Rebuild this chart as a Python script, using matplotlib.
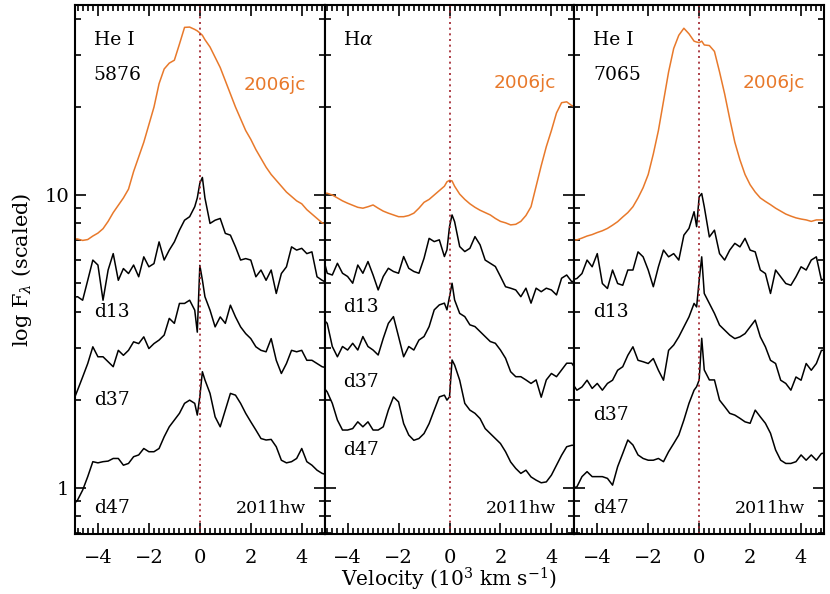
import numpy as np
import matplotlib
matplotlib.use("Agg")
import matplotlib.pyplot as plt
from matplotlib.ticker import MultipleLocator, LogLocator, NullFormatter, FixedLocator, FixedFormatter

# luoi van toc (10^3 km/s), day hon quanh 0
VEL = np.array([-5.0, -4.8, -4.6, -4.4, -4.2, -4.0, -3.8, -3.6, -3.4, -3.2,
                -3.0, -2.8, -2.6, -2.4, -2.2, -2.0, -1.8, -1.6, -1.4, -1.2,
                -1.0, -0.8, -0.6, -0.4, -0.2, -0.1, 0.0, 0.1,
                0.2, 0.4, 0.6, 0.8, 1.0, 1.2, 1.4, 1.6, 1.8, 2.0,
                2.2, 2.4, 2.6, 2.8, 3.0, 3.2, 3.4, 3.6, 3.8, 4.0,
                4.2, 4.4, 4.6, 4.8, 5.0])

# log10 F (scaled) doc tu hinh
hei5876_jc = [0.85, 0.85, 0.845, 0.848, 0.86, 0.87, 0.885, 0.91, 0.94, 0.965,
              0.99, 1.02, 1.08, 1.13, 1.18, 1.24, 1.30, 1.38, 1.43, 1.45,
              1.46, 1.515, 1.572, 1.573, 1.565, 1.56, 1.553, 1.545,
              1.53, 1.505, 1.47, 1.435, 1.39, 1.345, 1.30, 1.26, 1.22, 1.19,
              1.155, 1.125, 1.095, 1.07, 1.05, 1.03, 1.01, 0.995, 0.98, 0.97,
              0.95, 0.935, 0.92, 0.905, 0.90]
hei5876_d13 = [0.65, 0.653, 0.641, 0.709, 0.778, 0.761, 0.641, 0.744, 0.800, 0.709,
               0.749, 0.732, 0.761, 0.721, 0.789, 0.755, 0.766, 0.840, 0.778, 0.812,
               0.840, 0.880, 0.914, 0.926, 0.960, 0.99, 1.04, 1.06,
               0.99, 0.903, 0.914, 0.920, 0.869, 0.863, 0.823, 0.778, 0.783, 0.778,
               0.721, 0.744, 0.709, 0.744, 0.664, 0.732, 0.755, 0.823, 0.812, 0.818,
               0.800, 0.806, 0.721, 0.709, 0.70]
hei5876_d37 = [0.29, 0.334, 0.379, 0.425, 0.482, 0.448, 0.448, 0.431, 0.414, 0.470,
               0.453, 0.470, 0.499, 0.493, 0.516, 0.476, 0.493, 0.505, 0.522, 0.579,
               0.562, 0.630, 0.630, 0.641, 0.607, 0.532, 0.76, 0.71,
               0.653, 0.607, 0.550, 0.584, 0.562, 0.624, 0.584, 0.550, 0.527, 0.510,
               0.482, 0.470, 0.465, 0.510, 0.436, 0.391, 0.425, 0.470, 0.465, 0.470,
               0.436, 0.436, 0.425, 0.414, 0.41]
hei5876_d47 = [-0.06, -0.041, -0.007, 0.039, 0.090, 0.086, 0.090, 0.092, 0.101, 0.101,
               0.078, 0.084, 0.107, 0.113, 0.135, 0.124, 0.124, 0.135, 0.175, 0.209,
               0.232, 0.255, 0.289, 0.300, 0.289, 0.249, 0.312, 0.397,
               0.369, 0.323, 0.243, 0.209, 0.266, 0.323, 0.317, 0.289, 0.255, 0.226,
               0.198, 0.169, 0.164, 0.166, 0.141, 0.095, 0.086, 0.090, 0.101, 0.135,
               0.090, 0.078, 0.061, 0.050, 0.045]

halpha_jc = [1.005, 1.006, 1.0, 0.99, 0.98, 0.972, 0.965, 0.958, 0.955, 0.96,
             0.966, 0.955, 0.945, 0.938, 0.932, 0.926, 0.926, 0.93, 0.938, 0.955,
             0.975, 0.985, 1.0, 1.015, 1.03, 1.045, 1.05, 1.048,
             1.03, 1.003, 0.985, 0.97, 0.958, 0.948, 0.94, 0.932, 0.92, 0.91,
             0.905, 0.898, 0.9, 0.91, 0.93, 0.96, 1.03, 1.10, 1.165, 1.22,
             1.28, 1.315, 1.318, 1.305, 1.30]
halpha_d13 = [0.80, 0.733, 0.727, 0.767, 0.733, 0.722, 0.699, 0.761, 0.733, 0.773,
              0.727, 0.676, 0.722, 0.750, 0.739, 0.733, 0.790, 0.750, 0.739, 0.733,
              0.784, 0.852, 0.841, 0.847, 0.790, 0.813, 0.892, 0.932,
              0.909, 0.824, 0.807, 0.818, 0.858, 0.830, 0.778, 0.767, 0.756, 0.722,
              0.687, 0.682, 0.676, 0.653, 0.682, 0.631, 0.682, 0.670, 0.682, 0.676,
              0.659, 0.716, 0.727, 0.704, 0.71]
halpha_d37 = [0.58, 0.562, 0.483, 0.448, 0.483, 0.471, 0.494, 0.471, 0.517, 0.483,
              0.471, 0.454, 0.511, 0.562, 0.585, 0.517, 0.448, 0.483, 0.471, 0.505,
              0.517, 0.551, 0.608, 0.625, 0.631, 0.608, 0.653, 0.699,
              0.642, 0.596, 0.585, 0.557, 0.551, 0.534, 0.517, 0.500, 0.494, 0.471,
              0.443, 0.397, 0.380, 0.380, 0.369, 0.357, 0.369, 0.31, 0.369, 0.391,
              0.380, 0.403, 0.426, 0.426, 0.40]
halpha_d47 = [0.35, 0.328, 0.289, 0.232, 0.198, 0.198, 0.203, 0.226, 0.209, 0.226,
              0.198, 0.198, 0.209, 0.266, 0.311, 0.294, 0.220, 0.181, 0.163, 0.169,
              0.186, 0.220, 0.266, 0.311, 0.317, 0.300, 0.311, 0.437,
              0.420, 0.368, 0.289, 0.266, 0.255, 0.237, 0.203, 0.186, 0.169, 0.152,
              0.124, 0.089, 0.067, 0.050, 0.061, 0.038, 0.027, 0.018, 0.021, 0.044,
              0.078, 0.112, 0.141, 0.146, 0.146]

hei7065_jc = [0.845, 0.847, 0.853, 0.86, 0.865, 0.872, 0.878, 0.886, 0.897, 0.909,
              0.925, 0.94, 0.96, 0.99, 1.025, 1.07, 1.14, 1.22, 1.32, 1.42,
              1.50, 1.545, 1.569, 1.55, 1.525, 1.522, 1.52, 1.525,
              1.512, 1.51, 1.49, 1.42, 1.345, 1.26, 1.18, 1.12, 1.07, 1.035,
              1.01, 0.99, 0.978, 0.967, 0.955, 0.945, 0.935, 0.928, 0.922, 0.918,
              0.915, 0.91, 0.915, 0.915, 0.915]
hei7065_d13 = [0.71, 0.715, 0.732, 0.778, 0.755, 0.800, 0.698, 0.681, 0.744, 0.698,
               0.692, 0.744, 0.744, 0.806, 0.789, 0.744, 0.687, 0.755, 0.812, 0.789,
               0.800, 0.778, 0.863, 0.886, 0.943, 0.892, 0.994, 1.005,
               0.960, 0.857, 0.880, 0.800, 0.778, 0.812, 0.835, 0.823, 0.852, 0.812,
               0.806, 0.744, 0.732, 0.664, 0.744, 0.721, 0.698, 0.692, 0.721, 0.755,
               0.744, 0.778, 0.789, 0.709, 0.72]
hei7065_d37 = [0.36, 0.334, 0.345, 0.368, 0.340, 0.357, 0.334, 0.357, 0.368, 0.402,
               0.414, 0.453, 0.482, 0.436, 0.431, 0.425, 0.442, 0.402, 0.368, 0.470,
               0.488, 0.516, 0.550, 0.584, 0.630, 0.618, 0.709, 0.789,
               0.664, 0.630, 0.596, 0.556, 0.539, 0.522, 0.510, 0.516, 0.527, 0.550,
               0.573, 0.516, 0.482, 0.436, 0.425, 0.368, 0.357, 0.334, 0.379, 0.368,
               0.425, 0.402, 0.425, 0.470, 0.47]
hei7065_d47 = [0.0, 0.004, 0.039, 0.056, 0.039, 0.039, 0.039, 0.033, 0.010, 0.073,
               0.118, 0.164, 0.147, 0.113, 0.101, 0.095, 0.095, 0.101, 0.090, 0.124,
               0.152, 0.181, 0.232, 0.289, 0.334, 0.346, 0.369, 0.511,
               0.403, 0.369, 0.369, 0.300, 0.278, 0.255, 0.249, 0.238, 0.226, 0.221,
               0.266, 0.243, 0.221, 0.187, 0.130, 0.095, 0.084, 0.084, 0.090, 0.113,
               0.095, 0.113, 0.095, 0.118, 0.12]

EPOCHS = ["d13", "d37", "d47"]
ORANGE = "#e8792b"
SERIF = "DejaVu Serif"
FS = 13.5

plt.rcParams["font.family"] = SERIF
plt.rcParams["mathtext.fontset"] = "dejavuserif"


def draw_panel(ax, jc, days, line_name, line_wave, label_y):
    """Ve mot vach pho: 2006jc (cam) va 3 ngay cua 2011hw (den)."""
    ax.plot(VEL, 10 ** np.array(jc), color=ORANGE, lw=1.1)
    for d in days:
        ax.plot(VEL, 10 ** np.array(d), color="black", lw=1.1)
    ax.axvline(0, color="#a0202a", lw=1.2, ls=(0, (1.2, 2.2)))

    # nhan chu
    ax.text(0.075, 0.934, line_name, transform=ax.transAxes, fontsize=FS,
            va="center", ha="left")
    if line_wave:
        ax.text(0.075, 0.868, line_wave, transform=ax.transAxes, fontsize=FS,
                va="center", ha="left")
    ax.text(0.925, label_y[0], "2006jc", transform=ax.transAxes, fontsize=13.3,
            color=ORANGE, va="center", ha="right", family="DejaVu Sans")
    for name, yy in zip(EPOCHS, label_y[1:]):
        ax.text(0.075, yy, name, transform=ax.transAxes, fontsize=FS,
                va="center", ha="left")
    ax.text(0.925, 0.049, "2011hw", transform=ax.transAxes, fontsize=12.5,
            va="center", ha="right")

    ax.set_xlim(-4.9, 4.9)
    ax.set_yscale("log")
    ax.set_ylim(0.697, 44.5)
    ax.xaxis.set_major_locator(MultipleLocator(2))
    ax.xaxis.set_minor_locator(MultipleLocator(0.2))
    ax.yaxis.set_major_locator(FixedLocator([1, 10]))
    ax.yaxis.set_major_formatter(FixedFormatter(["1", "10"]))
    ax.yaxis.set_minor_locator(LogLocator(base=10, subs=np.arange(2, 10)))
    ax.yaxis.set_minor_formatter(NullFormatter())
    ax.tick_params(which="both", direction="in", top=True, right=True,
                   labelsize=14, width=1.2)
    ax.tick_params(which="major", length=8)
    ax.tick_params(which="minor", length=4)
    ax.tick_params(axis="x", which="major", pad=11)
    ax.tick_params(axis="y", which="major", pad=4)
    for sp in ax.spines.values():
        sp.set_linewidth(1.5)


fig, axes = plt.subplots(1, 3, figsize=(8.3, 5.94), dpi=100, sharey=True)
fig.subplots_adjust(left=75 / 830, right=824 / 830, top=1 - 5 / 594,
                    bottom=1 - 534 / 594, wspace=0)

draw_panel(axes[0], hei5876_jc, [hei5876_d13, hei5876_d37, hei5876_d47],
           "He I", "5876", [0.849, 0.420, 0.253, 0.049])
draw_panel(axes[1], halpha_jc, [halpha_d13, halpha_d37, halpha_d47],
           r"H$\alpha$", None, [0.853, 0.429, 0.287, 0.159])
draw_panel(axes[2], hei7065_jc, [hei7065_d13, hei7065_d37, hei7065_d47],
           "He I", "7065", [0.853, 0.420, 0.225, 0.049])

for ax in axes[1:]:
    ax.tick_params(labelleft=False)

axes[0].set_ylabel(r"log F$_\lambda$ (scaled)", fontsize=15, labelpad=8)
axes[1].set_xlabel(r"Velocity (10$^3$ km s$^{-1}$)", fontsize=14.5, labelpad=-1)

plt.savefig("out.png", dpi=100)
